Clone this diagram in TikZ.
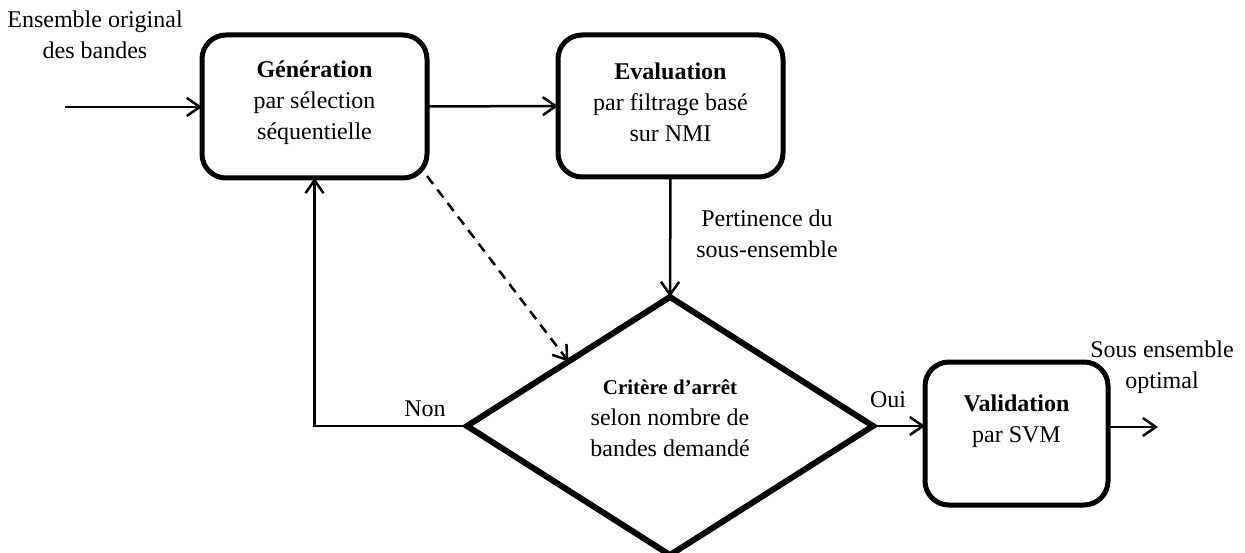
\documentclass[tikz,border=0pt]{standalone}
\usepackage{fontspec}
\setmainfont{Liberation Serif}
\usetikzlibrary{shapes.geometric,arrows.meta,calc}
\begin{document}
\begin{tikzpicture}[x=1pt,y=-1pt,
  txt/.style={font=\fontsize{24}{31}\selectfont, align=center, inner sep=0pt},
  block/.style={draw, line width=5pt, rounded corners=24pt, inner sep=0pt, outer sep=0pt},
  decision/.style={draw, diamond, line width=6pt, inner sep=0pt, outer sep=0pt},
  link/.style={line width=2.5pt, -{Straight Barb[length=13pt,width=18pt,line width=2.5pt]}},
  hint/.style={line width=2.5pt, dash pattern=on 10pt off 7pt, -{Straight Barb[length=13pt,width=18pt,line width=2.5pt]}}]
\useasboundingbox (0,0) rectangle (1245,553);

% process blocks
\node[block, minimum width=225pt, minimum height=143pt,
      label={[txt, yshift=4pt]center:{\textbf{Génération}\\par sélection\\séquentielle}}]
  (gen) at (314.5,106.5) {};
\node[block, minimum width=225pt, minimum height=142pt,
      label={[txt, yshift=4pt]center:{\textbf{Evaluation}\\par filtrage basé\\sur NMI}}]
  (eval) at (670.5,106) {};
\node[block, minimum width=183pt, minimum height=143pt,
      label={[txt, yshift=12pt]center:{\textbf{Validation}\\par SVM}}]
  (val) at (1016.5,433.5) {};

% stopping test
\node[decision, minimum width=406pt, minimum height=258pt,
      label={[txt, yshift=8pt]center:{{\fontsize{21}{31}\selectfont\textbf{Critère d’arrêt}}\\selon nombre de\\bandes demandé}}]
  (crit) at (670,426) {};

% free ends and annotations
\coordinate (in) at (65,107);
\coordinate (out) at (1158,427);
\node[txt] (inlbl) at (95,35) {Ensemble original\\des bandes};
\node[txt] (outlbl) at (1162,367) {Sous ensemble\\optimal};
\node[txt] (pert) at (767,234) {Pertinence du\\sous-ensemble};
\node[txt] (non) at (425,409) {Non};
\node[txt] (oui) at (888,400) {Oui};

% connectors
\draw[link] (in) -- (gen.west |- in);
\draw[link] (gen) -- (eval);
\draw[link] (eval.south) -- (crit.north);
\draw[link] (crit.east) -- (crit.east -| val.west);
\draw[link] (val.east |- out) -- (out);
\draw[link] (crit.west) -| (gen.south);
\draw[hint] ($(gen.south east)+(0,-2)$) -- ($(crit.west)!0.5!(crit.north)$);
\end{tikzpicture}
\end{document}
